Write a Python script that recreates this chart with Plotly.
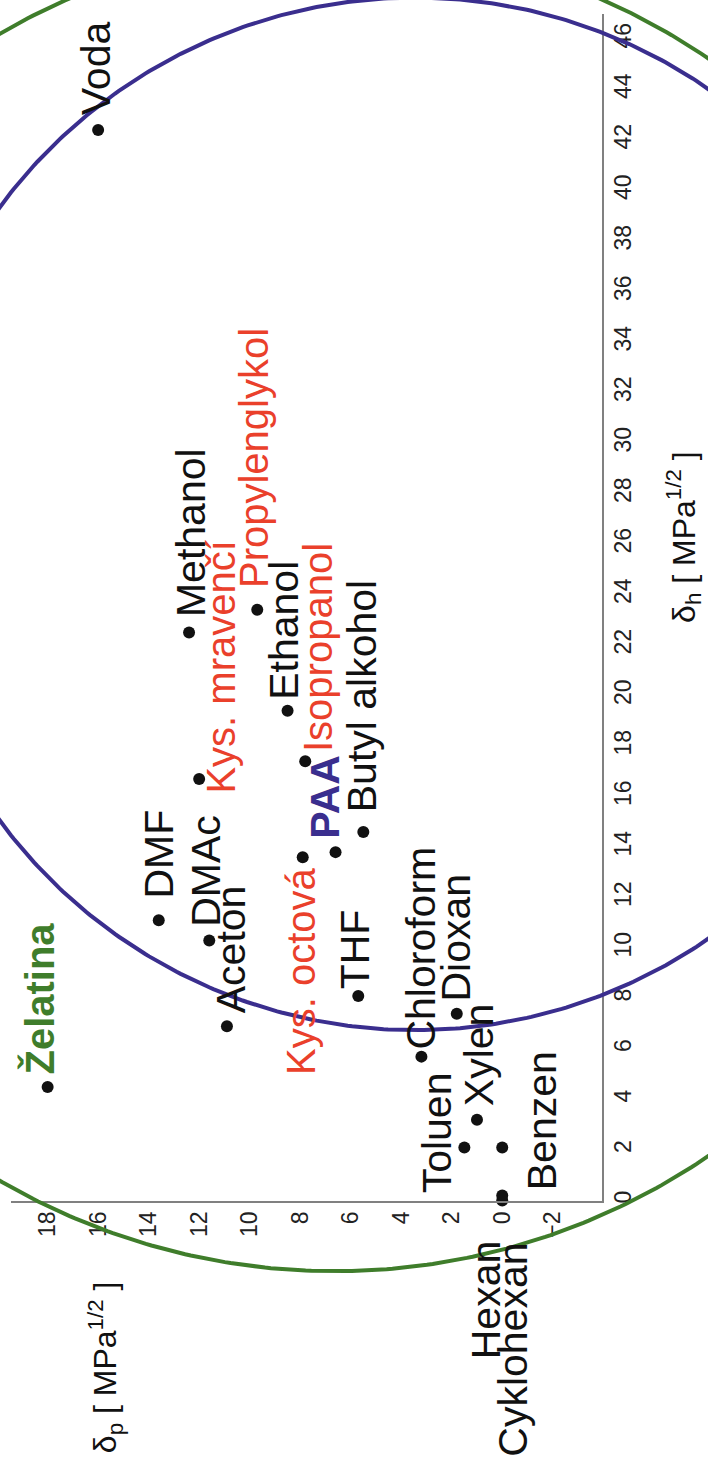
import numpy as np
import plotly.graph_objects as go

# ---- data (Hansen parameters, MPa^1/2) ----
names = ["Voda", "Methanol", "Kys. mravenčí", "Propylenglykol", "Ethanol", "Isopropanol",
         "Butyl alkohol", "PAA", "Kys. octová", "DMF", "DMAc", "Aceton", "THF", "Želatina",
         "Chloroform", "Dioxan", "Xylen", "Toluen", "Benzen", "Hexan", "Cyklohexan"]
delta_p = [16.0, 12.4, 12.0, 9.7, 8.5, 7.8, 5.5, 6.6, 7.9, 13.6, 11.6, 10.9, 5.7, 18.0,
           3.2, 1.8, 1.0, 1.5, 0.0, 0.0, 0.0]
delta_h = [42.4, 22.5, 16.7, 23.4, 19.4, 17.4, 14.6, 13.8, 13.6, 11.1, 10.3, 6.9, 8.1, 4.5,
           5.7, 7.4, 3.2, 2.1, 2.1, 0.0, 0.2]
groups = ["solvent", "solvent", "acid", "acid", "solvent", "acid", "solvent", "PAA", "acid",
          "solvent", "solvent", "solvent", "solvent", "gel", "solvent", "solvent", "solvent",
          "solvent", "solvent", "solvent", "solvent"]

# solubility circles: centre (dp, dh) and radius
circle_names = ["PAA", "Želatina"]
circle_dp = [3.45, 6.64]
circle_dh = [27.2, 23.5]
circle_r = [20.45, 26.3]

x_ticks = list(range(-2, 19, 2))
y_ticks = list(range(0, 47, 2))

# ---- styles / layout (pixels) ----
W, H = 708, 1461
PX_L, PX_R, PX_T, PX_B = 11, 602, 14, 1203
XR = [19.45, -3.95]
YR = [0.0, 47.0]

BLUE = "#3a2e8e"
GREEN = "#3f7d2b"
RED = "#ea402b"
BLACK = "#111111"
FONT = "Liberation Sans, Arial, sans-serif"

style = {
    "solvent": dict(color=BLACK, size=41, family=FONT, bold=False),
    "acid": dict(color=RED, size=40, family=FONT, bold=False),
    "PAA": dict(color=BLUE, size=41, family=FONT, bold=True),
    "gel": dict(color=GREEN, size=40, family=FONT, bold=True),
}
# label placement: (anchor, xshift, yshift)
placement = [("bottom", -2, 13), ("bottom", 2, 13), ("bottom", 22, -17), ("bottom", -3, 20),
             ("bottom", -3, 9), ("bottom", 13, 7), ("bottom", -1, 18), ("bottom", -10, 11),
             ("top", -2, -8), ("bottom", 0, 20), ("bottom", -4, 12), ("bottom", 4, 11),
             ("bottom", -3, 5), ("bottom", -8, 10), ("bottom", 0, 5), ("bottom", -1, 10),
             ("bottom", 2, 12), ("bottom", -27, -48), ("bottom", 40, -45), ("top", -16, -38),
             ("top", 11, -45)]

kx = (PX_R - PX_L) / (XR[0] - XR[1])
ky = (PX_B - PX_T) / (YR[1] - YR[0])
X2R = [XR[0] + PX_L / kx, XR[1] - (W - PX_R) / kx]
Y2R = [YR[0] - (H - PX_B) / ky, YR[1] + PX_T / ky]

fig = go.Figure()

theta = np.linspace(0, 2 * np.pi, 721)
for cx, cy, r, col in zip(circle_dp, circle_dh, circle_r, [BLUE, GREEN]):
    fig.add_trace(go.Scatter(x=cx + r * np.cos(theta), y=cy + r * np.sin(theta),
                             mode="lines", line=dict(color=col, width=4),
                             xaxis="x2", yaxis="y2", hoverinfo="skip", showlegend=False))

fig.add_trace(go.Scatter(x=delta_p, y=delta_h, mode="markers",
                         marker=dict(color=BLACK, size=12), cliponaxis=False,
                         showlegend=False, hovertext=names))

for n, xp, yh, g, (anc, dx, dy) in zip(names, delta_p, delta_h, groups, placement):
    s = style[g]
    txt = f"<b>{n}</b>" if s["bold"] else n
    fig.add_annotation(x=xp, y=yh, xref="x", yref="y", text=txt, showarrow=False,
                       textangle=-90, xanchor="center", yanchor=anc,
                       xshift=dx, yshift=dy,
                       font=dict(color=s["color"], size=s["size"], family=s["family"]))

# axis titles
fig.add_annotation(x=684 / W, y=1 - 538 / H, xref="paper", yref="paper",
                   text="δ<sub>h</sub> [ MPa<sup>1/2</sup> ]", showarrow=False, textangle=-90,
                   xanchor="center", yanchor="middle", font=dict(size=32, family=FONT, color=BLACK))
fig.add_annotation(x=105 / W, y=1 - 1370 / H, xref="paper", yref="paper",
                   text="δ<sub>p</sub> [ MPa<sup>1/2</sup> ]", showarrow=False, textangle=-90,
                   xanchor="center", yanchor="middle", font=dict(size=32, family=FONT, color=BLACK))

axis_common = dict(showgrid=False, zeroline=False, showline=True, linecolor="#808080",
                   linewidth=1.5, ticks="", tickangle=-90,
                   tickfont=dict(size=23, family=FONT, color="#222222"))

fig.update_layout(
    width=W, height=H, margin=dict(l=0, r=0, t=0, b=0),
    paper_bgcolor="white", plot_bgcolor="rgba(0,0,0,0)", showlegend=False,
    xaxis=dict(domain=[PX_L / W, PX_R / W], range=XR, tickvals=x_ticks,
               side="bottom", anchor="y", **axis_common),
    yaxis=dict(domain=[1 - PX_B / H, 1 - PX_T / H], range=YR, tickvals=y_ticks,
               side="right", anchor="x", **axis_common),
    xaxis2=dict(domain=[0, 1], range=X2R, visible=False, anchor="y2"),
    yaxis2=dict(domain=[0, 1], range=Y2R, visible=False, anchor="x2"),
)

fig.write_html(
    "out.html",
    config={"displayModeBar": False},
    post_script="document.body.style.margin='0px';"
                "document.documentElement.style.overflow='hidden';",
)
